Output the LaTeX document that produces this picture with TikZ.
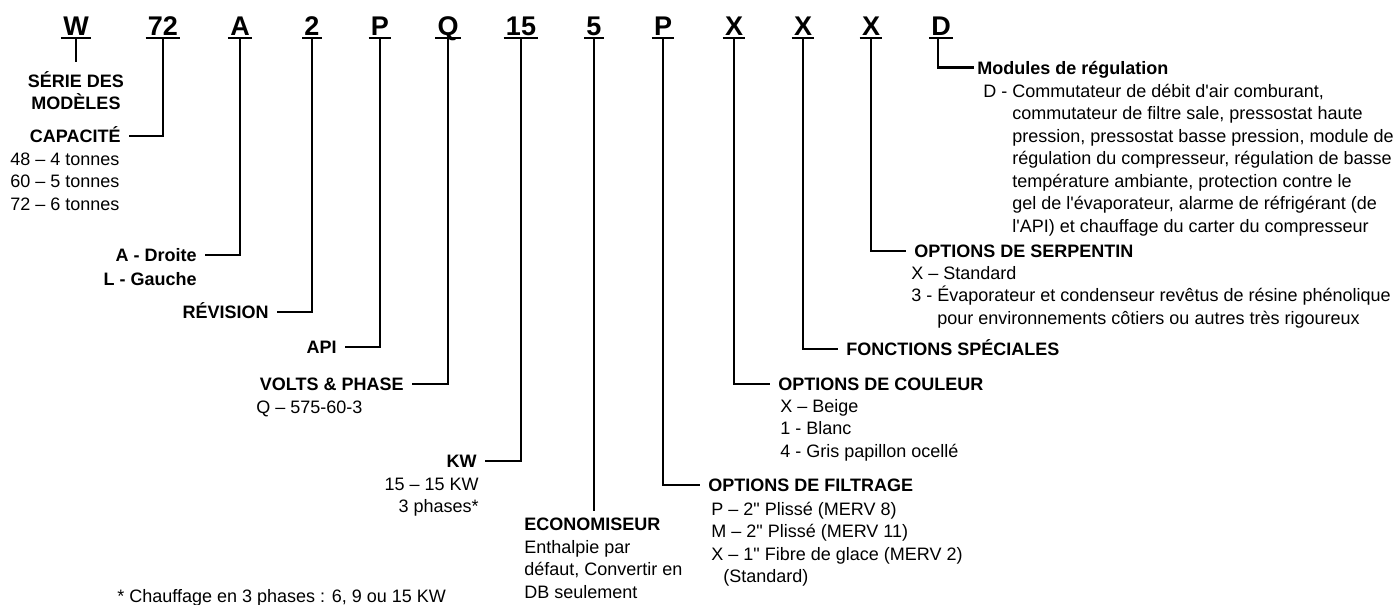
\documentclass[tikz,border=0pt]{standalone}
\usepackage{fontspec}
\setmainfont{Liberation Sans}[Ligatures=TeXOff]
\newcommand{\bodyfont}{\fontsize{9}{11.25}\selectfont}
\newcommand{\codefont}{\fontsize{13.5}{13.5}\selectfont\bfseries}
\newcommand{\topstrut}{\rule{0pt}{8.5pt}}
\tikzset{
  code/.style={
    font=\codefont,
    anchor=base,
    inner xsep=1pt,
    inner ysep=1.25pt,
    text depth=0pt,
    append after command={(\tikzlastnode.south west) edge[uline] (\tikzlastnode.south east)}
  },
  uline/.style={draw=black, line width=0.8pt},
  lead/.style={draw=black, line width=1.3pt},
  lbl/.style={font=\bodyfont, inner sep=0pt},
  head/.style={
    lbl,
    font=\bodyfont\bfseries,
    inner xsep=4pt,
    text height=6.6pt,
    text depth=0pt
  },
  desc/.style={lbl, align=left, anchor=north west}
}
\begin{document}
\begin{tikzpicture}[x=0.5pt, y=-0.5pt]
  \useasboundingbox (0,0) rectangle (1398,605);

  % model number
  \node[code] (kSer) at (76,35) {W};
  \node[code] (kCap) at (163,35) {72};
  \node[code] (kSide) at (240,35) {A};
  \node[code] (kRev) at (312,35) {2};
  \node[code] (kApi) at (380,35) {P};
  \node[code] (kVolt) at (448,35) {Q};
  \node[code] (kKw) at (521,35) {15};
  \node[code] (kEco) at (594,35) {5};
  \node[code] (kFilt) at (663,35) {P};
  \node[code] (kCol) at (734,35) {X};
  \node[code] (kFonc) at (803,35) {X};
  \node[code] (kSerp) at (871,35) {X};
  \node[code] (kMod) at (941,35) {D};

  % left hand labels
  \node[lbl, font=\bodyfont\bfseries, align=center, anchor=north] (serie) at (76,70) {\topstrut SÉRIE DES\\MODÈLES};
  \node[head, anchor=east] (capa) at (129,136) {CAPACITÉ};
  \node[desc] (capaval) at (10,148) {\topstrut 48 – 4 tonnes\\60 – 5 tonnes\\72 – 6 tonnes};
  \node[head, anchor=east] (droite) at (205,255) {A - Droite};
  \node[head, anchor=east] (gauche) at (205,279) {L - Gauche};
  \node[head, anchor=east] (rev) at (277,312) {RÉVISION};
  \node[head, anchor=east] (api) at (345,347) {API};
  \node[head, anchor=east] (volt) at (412,384) {VOLTS \& PHASE};
  \node[desc] (voltval) at (256,396) {\topstrut Q – 575-60-3};
  \node[head, anchor=east] (kw) at (485,461) {KW};
  \node[desc, anchor=north east, align=right] (kwval) at (479,473) {\topstrut 15 – 15 KW\\3 phases*};
  \node[desc] (note) at (117,585) {\topstrut * Chauffage en 3 phases : 6, 9 ou 15 KW};

  % right hand labels
  \node[head, anchor=north west] (eco) at (516,517) {ECONOMISEUR};
  \node[desc] (ecoval) at (524,536) {\topstrut Enthalpie par\\défaut, Convertir en\\DB seulement};
  \node[head, anchor=west] (filt) at (700,485) {OPTIONS DE FILTRAGE};
  \node[desc] (filtval) at (711,498) {\topstrut P – 2" Plissé (MERV 8)\\M – 2" Plissé (MERV 11)\\X – 1" Fibre de glace (MERV 2)\\\hspace*{6pt}(Standard)};
  \node[head, anchor=west] (col) at (770,384) {OPTIONS DE COULEUR};
  \node[desc] (colval) at (780,395) {\topstrut X – Beige\\1 - Blanc\\4 - Gris papillon ocellé};
  \node[head, anchor=west] (fonc) at (838,349) {FONCTIONS SPÉCIALES};
  \node[head, anchor=west] (serp) at (906,251) {OPTIONS DE SERPENTIN};
  \node[desc] (serpval) at (911,262) {\topstrut X – Standard\\3 - Évaporateur et condenseur revêtus de résine phénolique\\\hphantom{3 - }pour environnements côtiers ou autres très rigoureux};
  \node[head, anchor=west, inner xsep=1.5pt] (mod) at (974,67.5) {Modules de régulation};
  \node[desc] (modval) at (983,80) {\topstrut D - Commutateur de débit d'air comburant,\\\hphantom{D - }commutateur de filtre sale, pressostat haute\\\hphantom{D - }pression, pressostat basse pression, module de\\\hphantom{D - }régulation du compresseur, régulation de basse\\\hphantom{D - }température ambiante, protection contre le\\\hphantom{D - }gel de l'évaporateur, alarme de réfrigérant (de\\\hphantom{D - }l'API) et chauffage du carter du compresseur};

  % leaders
  \draw[lead, shorten >=4pt] (kSer.south) -- (serie.north);
  \draw[lead] (kCap.south) |- (capa.east);
  \draw[lead] (kSide.south) |- (droite.east);
  \draw[lead] (kRev.south) |- (rev.east);
  \draw[lead] (kApi.south) |- (api.east);
  \draw[lead] (kVolt.south) |- (volt.east);
  \draw[lead] (kKw.south) |- (kw.east);
  \draw[lead, shorten >=3pt] (kEco.south) -- (kEco.south |- eco.north);
  \draw[lead] (kFilt.south) |- (filt.west);
  \draw[lead] (kCol.south) |- (col.west);
  \draw[lead] (kFonc.south) |- (fonc.west);
  \draw[lead] (kSerp.south) |- (serp.west);
  \draw[lead] ([xshift=-1.5pt]kMod.south) |- (mod.west);
\end{tikzpicture}
\end{document}
